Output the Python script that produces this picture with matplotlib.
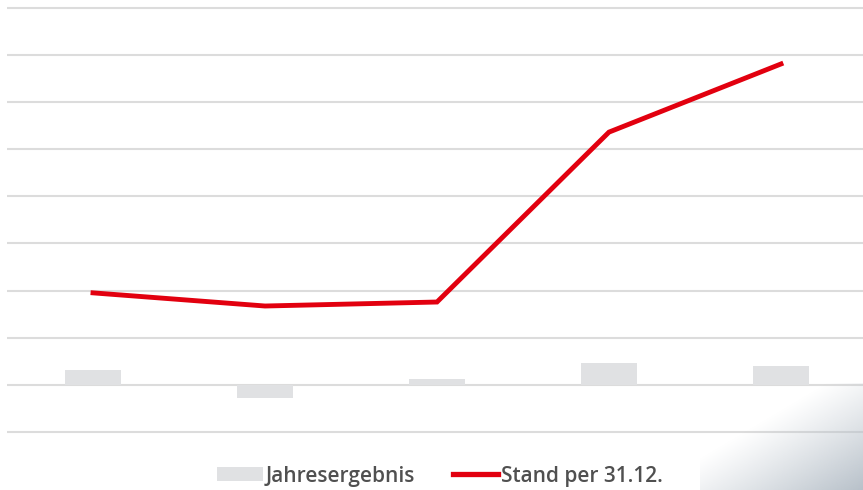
import numpy as np
import matplotlib
matplotlib.use("Agg")
import matplotlib.pyplot as plt

categories = ["2019", "2020", "2021", "2022", "2023"]
jahresergebnis = [0.30, -0.28, 0.11, 0.46, 0.40]
stand = [1.95, 1.67, 1.755, 5.37, 6.82]
grid_levels = list(range(-1, 9))

W, H = 863, 490
fig = plt.figure(figsize=(W / 100, H / 100), dpi=100)
fig.patch.set_facecolor("white")

# axes: x -0.5..4.5 spans px 7..867 ; y units 47px, zero at 384.5
left_px, right_px = 7, 867
top_px, bot_px = 0, 445
ax = fig.add_axes([left_px / W, 1 - bot_px / H, (right_px - left_px) / W, (bot_px - top_px) / H])
ymax = (384.5 - top_px) / 47
ymin = (384.5 - bot_px) / 47
ax.set_xlim(-0.5, 4.5)
ax.set_ylim(ymin, ymax)
ax.set_facecolor("none")
for s in ax.spines.values():
    s.set_visible(False)
ax.set_xticks([])
ax.set_yticks([])

for g in grid_levels:
    ax.axhline(g, color="#dcdcdc", lw=1.5, zorder=1)

x = np.arange(len(categories))
bars = ax.bar(x, jahresergebnis, width=56 / 172, color="#e0e1e3", zorder=2, label="Jahresergebnis")
line, = ax.plot(x, stand, color="#e2000f", lw=3.5, zorder=3, solid_joinstyle="miter", label="Stand per 31.12.")

# shadow overlay bottom-right
sh = fig.add_axes([700 / W, 0, 163 / W, 107 / H])
sh.set_axis_off()
nx, ny = 200, 130
xx, yy = np.meshgrid(np.linspace(0, 1, nx), np.linspace(0, 1, ny))
d = (xx * 0.9 + yy * 1.0 - 0.7) / 1.2
a = np.clip(d, 0, 1) ** 1.1
img = np.zeros((ny, nx, 4))
img[..., 0] = 0xb8 / 255
img[..., 1] = 0xc1 / 255
img[..., 2] = 0xca / 255
img[..., 3] = a
sh.imshow(img, aspect="auto", extent=(0, 1, 0, 1), origin="upper", interpolation="bilinear")
sh.set_xlim(0, 1)
sh.set_ylim(0, 1)

leg = fig.legend([bars, line], ["Jahresergebnis", "Stand per 31.12."],
                 loc="center", bbox_to_anchor=(440 / W, 1 - 476 / H), ncol=2, frameon=False,
                 prop={"family": ["Open Sans", "DejaVu Sans"], "size": 15, "weight": "semibold"},
                 handlelength=2.2, handletextpad=0.15, columnspacing=1.8, handleheight=0.63)
for t in leg.get_texts():
    t.set_color("#505050")
leg.legend_handles[1].set_linewidth(3.8)

fig.savefig("out.png", dpi=100, facecolor="white")
